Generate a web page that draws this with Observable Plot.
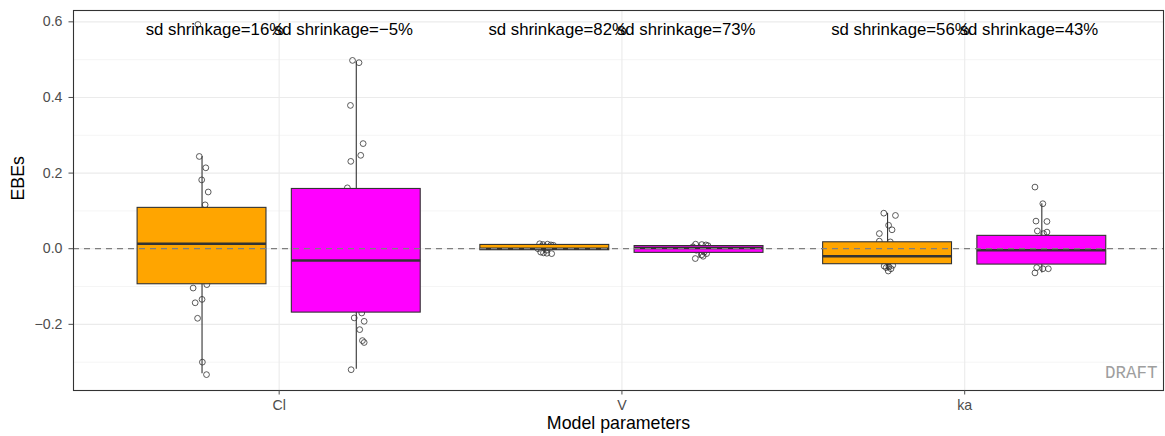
<!DOCTYPE html>
<html>
<head>
<meta charset="utf-8">
<script src="https://cdn.jsdelivr.net/npm/d3@7"></script>
<script src="https://cdn.jsdelivr.net/npm/@observablehq/plot@0.6"></script>
<style>
  html, body { margin: 0; padding: 0; background: #ffffff; }
  #chart { width: 1165px; height: 436px; }
</style>
</head>
<body>
<div id="chart"></div>
<script>
// ---------- data ----------
const params = ["Cl", "V", "ka"];
const groups = ["run1", "run2"];
const groupColors = ["#FFA500", "#FF00FF"];

// sd shrinkage (%) per param x group (run1, run2)
const shrinkage = [16, -5, 82, 73, 56, 43];

// box statistics per param x group: Cl-run1, Cl-run2, V-run1, V-run2, ka-run1, ka-run2
const q1     = [-0.094, -0.169, -0.004, -0.011, -0.041, -0.042];
const median = [ 0.013, -0.031,  0.000,  0.002, -0.020, -0.004];
const q3     = [ 0.108,  0.158,  0.010,  0.007,  0.017,  0.034];
const whiskerLo = [-0.331, -0.319, -0.013, -0.026, -0.057, -0.064];
const whiskerHi = [ 0.244,  0.494,  0.013,  0.012,  0.094,  0.119];

// individual EBEs (value) and the jitter offset
const ebeClRun1 = [0.593, 0.244, 0.214, 0.182, 0.150, 0.116, 0.09, 0.07, 0.05, 0.03, 0.02, 0.01, 0.00, -0.02, -0.04, -0.06, -0.08, -0.095, -0.104, -0.134, -0.143, -0.184, -0.300, -0.333];
const jitClRun1 = [-0.012, -0.008, 0.011, -0.001, 0.018, 0.009, 0, 0, 0, 0, 0, 0, 0, 0, 0, 0, 0, 0.014, -0.026, 0.000, -0.020, -0.013, 0.001, 0.013];
const ebeClRun2 = [0.498, 0.492, 0.379, 0.278, 0.247, 0.231, 0.161, 0.14, 0.10, 0.06, 0.02, -0.01, -0.03, -0.05, -0.08, -0.11, -0.14, -0.170, -0.183, -0.192, -0.214, -0.243, -0.248, -0.320];
const jitClRun2 = [-0.011, 0.008, -0.017, 0.020, 0.013, -0.016, -0.026, 0, 0, 0, 0, 0, 0, 0, 0, 0, 0, 0.016, -0.006, 0.023, 0.010, 0.018, 0.023, -0.015];
const ebeVRun1 = [0.013, 0.011, 0.012, 0.010, 0.009, 0.006, 0.003, 0.000, -0.004, -0.009, -0.012, -0.013, -0.011];
const jitVRun1 = [-0.015, -0.005, 0.008, 0.018, 0.025, -0.010, 0.012, -0.020, 0.005, -0.012, 0.006, 0.020, -0.004];
const ebeVRun2 = [0.012, 0.011, 0.010, 0.008, 0.005, 0.002, -0.004, -0.009, -0.013, -0.016, -0.020, -0.026];
const jitVRun2 = [-0.010, 0.008, 0.020, 0.026, -0.018, 0.003, -0.008, 0.015, 0.022, 0.008, 0.012, -0.011];
const ebeKaRun1 = [0.094, 0.088, 0.062, 0.050, 0.040, 0.020, 0.018, 0.010, 0.000, -0.010, -0.020, -0.025, -0.030, -0.035, -0.044, -0.046, -0.048, -0.050, -0.053, -0.059];
const jitKaRun1 = [-0.011, 0.023, 0.003, 0.013, -0.024, -0.024, 0.008, 0, 0, 0, 0, 0, 0, 0, 0.015, -0.010, 0.004, -0.004, 0.010, 0.002];
const ebeKaRun2 = [0.163, 0.119, 0.073, 0.072, 0.047, 0.044, 0.040, 0.020, 0.000, -0.004, -0.020, -0.030, -0.050, -0.053, -0.053, -0.064];
const jitKaRun2 = [-0.020, 0.003, -0.017, 0.015, -0.013, 0.015, 0.005, 0, 0, 0, 0, 0, -0.015, 0.019, 0.003, -0.020];

const ebeLists = [ebeClRun1, ebeClRun2, ebeVRun1, ebeVRun2, ebeKaRun1, ebeKaRun2];
const jitLists = [jitClRun1, jitClRun2, jitVRun1, jitVRun2, jitKaRun1, jitKaRun2];

// ---------- tables built from the arrays ----------
const dodge = 0.225, halfWidth = 0.188, labelDodge = 0.1875;
const boxes = [];
const points = [];
params.forEach((p, pi) => {
  groups.forEach((g, gi) => {
    const k = pi * 2 + gi;
    const xc = pi + (gi === 0 ? -dodge : dodge);
    const xl = pi + (gi === 0 ? -labelDodge : labelDodge);
    boxes.push({
      param: p, group: g, xc, xl, xa: xc - halfWidth, xb: xc + halfWidth,
      q1: q1[k], med: median[k], q3: q3[k], lo: whiskerLo[k], hi: whiskerHi[k],
      shrink: shrinkage[k]
    });
    ebeLists[k].forEach((v, i) => {
      points.push({param: p, group: g, x: xc + jitLists[k][i], value: v});
    });
  });
});
const labelY = d3.max(points, d => d.value);
const fmtPct = v => "sd shrinkage=" + String(v).replace("-", "\u2212") + "%";

const majorY = [-0.2, 0.0, 0.2, 0.4, 0.6];
const minorY = [-0.3, -0.1, 0.1, 0.3, 0.5];

const chart = Plot.plot({
  width: 1165,
  height: 436,
  marginLeft: 73,
  marginRight: 2,
  marginTop: 10,
  marginBottom: 46,
  style: {fontFamily: "'Liberation Sans', Arial, sans-serif", background: "#ffffff"},
  x: {domain: [-0.6, 2.58], axis: null},
  y: {domain: [-0.375, 0.630], axis: null},
  color: {domain: groups, range: groupColors},
  marks: [
    Plot.gridY(minorY, {stroke: "#ebebeb", strokeOpacity: 1, strokeWidth: 0.55}),
    Plot.gridY(majorY, {stroke: "#ebebeb", strokeOpacity: 1, strokeWidth: 1.1}),
    Plot.gridX([0, 1, 2], {stroke: "#ebebeb", strokeOpacity: 1, strokeWidth: 1.1}),
    Plot.dot(points, {x: "x", y: "value", r: 2.9, stroke: "#333333", strokeWidth: 0.8, fill: "none"}),
    Plot.ruleX(boxes, {x: "xc", y1: "q3", y2: "hi", stroke: "#333333", strokeWidth: 1.1}),
    Plot.ruleX(boxes, {x: "xc", y1: "lo", y2: "q1", stroke: "#333333", strokeWidth: 1.1}),
    Plot.rect(boxes, {x1: "xa", x2: "xb", y1: "q1", y2: "q3", fill: "group", stroke: "#333333", strokeWidth: 1.1}),
    Plot.ruleY(boxes, {y: "med", x1: "xa", x2: "xb", stroke: "#333333", strokeWidth: 2.4}),
    Plot.ruleY([0], {stroke: "#7f7f7f", strokeWidth: 1.3, strokeDasharray: "6,5"}),
    Plot.text(boxes, {x: "xl", y: () => labelY, text: d => fmtPct(d.shrink), fontSize: 16.8, fill: "#000000", lineAnchor: "middle", dy: 5.5}),
    Plot.text(["DRAFT"], {frameAnchor: "bottom-right", dx: -6, dy: -13, textAnchor: "end", lineAnchor: "bottom", fontFamily: "'Liberation Mono', 'Courier New', monospace", fontSize: 17.5, fill: "#9e9e9e"}),
    Plot.frame({stroke: "#333333", strokeWidth: 1.1}),
    Plot.axisY(majorY, {tickFormat: d3.format(".1f"), tickSize: 4.5, tickPadding: 6.5, fontSize: 14.2, color: "#4d4d4d", label: null}),
    Plot.axisX([0, 1, 2], {tickFormat: i => params[i], tickSize: 4.5, tickPadding: 4.5, fontSize: 14.2, color: "#4d4d4d", label: null}),
    Plot.text(["EBEs"], {frameAnchor: "left", dx: -55, rotate: -90, fontSize: 17.8, fill: "#000000"}),
    Plot.text(["Model parameters"], {frameAnchor: "bottom", dy: 38, fontSize: 17.8, fill: "#000000"})
  ]
});
document.getElementById("chart").appendChild(chart);
</script>
</body>
</html>
